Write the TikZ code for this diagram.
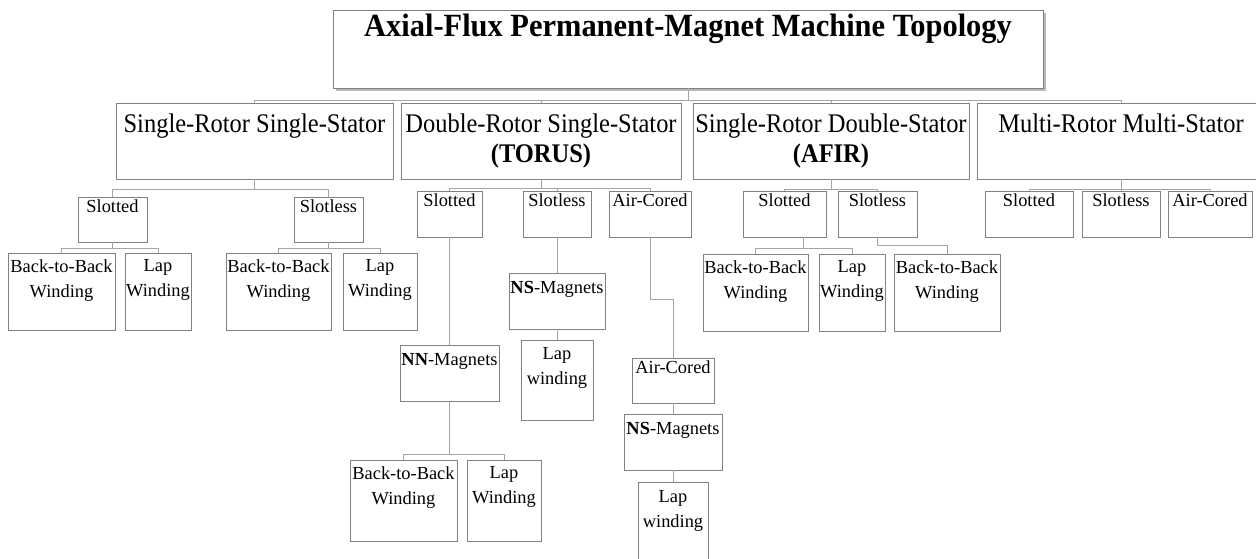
\documentclass[tikz,border=0pt]{standalone}
\usepackage{fontspec}
\setmainfont{Liberation Serif}
\newfontfamily\condserif{Liberation Serif}[FakeStretch=0.91]
\newfontfamily\titleserif{Liberation Serif}[FakeStretch=0.94]
\usetikzlibrary{calc,shadows}
\definecolor{boxgray}{RGB}{128,128,128}
\definecolor{conngray}{RGB}{165,165,165}
\tikzset{
  box/.style={draw=boxgray, line width=0.9pt, rectangle, inner sep=0pt, fill=white},
  titlebox/.style={box, drop shadow={fill=black!28, shadow xshift=3pt, shadow yshift=-3pt, opacity=1}},
  lbl/.style={anchor=north, inner sep=0pt, align=center, text=black},
  smallfont/.style={font=\fontsize{18.4}{25}\selectfont},
  bigfont/.style={font=\condserif\fontsize{26.9}{30}\selectfont},
  titlefont/.style={font=\titleserif\fontsize{32.4}{36}\selectfont\bfseries},
  conn/.style={draw=conngray, line width=0.9pt}
}
% name, font style, x1, y1, x2, y2, gap, text
\newcommand{\tnode}[8]{%
  \node[box, minimum width={#5-#3}, minimum height={#6-#4},
        label={[lbl,#2,yshift=-#7pt]north:{#8}}]
        (#1) at ({(#3+#5)/2},{(#4+#6)/2}) {};}
\begin{document}
\begin{tikzpicture}[x=1pt,y=-1pt]
\useasboundingbox (0,0) rectangle (1256,559);
\fill[white] (0,0) rectangle (1256,559);
\clip (0,0) rectangle (1256,559);

% title
\node[titlebox, minimum width=710, minimum height=78,
      label={[lbl,titlefont,yshift=-4pt]north:{Axial-Flux Permanent-Magnet Machine Topology}}]
      (title) at (688,49) {};

% level 1
\tnode{srss}{bigfont}{116}{103}{393}{179}{11}{Single-Rotor Single-Stator}
\tnode{drss}{bigfont}{401}{103}{681}{179}{11}{Double-Rotor Single-Stator\\\textbf{(TORUS)}}
\tnode{srds}{bigfont}{693}{103}{969}{179}{11}{Single-Rotor Double-Stator\\\textbf{(AFIR)}}
\tnode{mrms}{bigfont}{977}{103}{1265}{179}{11}{Multi-Rotor Multi-Stator}

% SRSS subtree
\tnode{s1slot}{smallfont}{78}{197}{147}{242}{3}{Slotted}
\tnode{s1sless}{smallfont}{294}{197}{363}{242}{3}{Slotless}
\tnode{s1b2b}{smallfont}{8}{253}{115}{330}{7}{Back-to-Back\\Winding}
\tnode{s1lap}{smallfont}{125}{253}{191}{330}{7}{Lap\\Winding}
\tnode{s2b2b}{smallfont}{226}{253}{331}{330}{7}{Back-to-Back\\Winding}
\tnode{s2lap}{smallfont}{343}{253}{417}{330}{7}{Lap\\Winding}

% TORUS subtree
\tnode{tslot}{smallfont}{417}{191}{482}{237}{3}{Slotted}
\tnode{tsless}{smallfont}{523}{191}{591}{237}{3}{Slotless}
\tnode{tair}{smallfont}{609}{191}{691}{237}{3}{Air-Cored}
\tnode{tnn}{smallfont}{400}{345}{499}{401}{9}{\textbf{NN}-Magnets}
\tnode{tnb2b}{smallfont}{350}{460}{457}{541}{7}{Back-to-Back\\Winding}
\tnode{tnlap}{smallfont}{467}{460}{541}{541}{7}{Lap\\Winding}
\tnode{tns}{smallfont}{509}{273}{605}{329}{9}{\textbf{NS}-Magnets}
\tnode{tlap}{smallfont}{521}{340}{593}{420}{8}{Lap\\winding}
\tnode{tair2}{smallfont}{632}{358}{714}{403}{3}{Air-Cored}
\tnode{tns2}{smallfont}{624}{414}{722}{470}{9}{\textbf{NS}-Magnets}
\tnode{tlap2}{smallfont}{638}{482}{708}{575}{9}{Lap\\winding}

% AFIR subtree
\tnode{aslot}{smallfont}{743}{191}{826}{237}{3}{Slotted}
\tnode{asless}{smallfont}{838}{191}{917}{237}{3}{Slotless}
\tnode{ab2b}{smallfont}{703}{254}{808}{331}{7}{Back-to-Back\\Winding}
\tnode{alap}{smallfont}{819}{254}{885}{331}{7}{Lap\\Winding}
\tnode{ab2b2}{smallfont}{894}{254}{1000}{331}{7}{Back-to-Back\\Winding}

% MRMS subtree
\tnode{mslot}{smallfont}{985}{191}{1073}{237}{3}{Slotted}
\tnode{msless}{smallfont}{1082}{191}{1160}{237}{3}{Slotless}
\tnode{mair}{smallfont}{1168}{191}{1252}{237}{3}{Air-Cored}

% connectors: title
\draw[conn] (title.south) -- ++(0,12) coordinate (jt);
\draw[conn] (srss.north) |- (jt) -| (mrms.north);
\draw[conn] (drss.north) -- (drss.north |- jt);
\draw[conn] (srds.north) -- (srds.north |- jt);

% SRSS
\draw[conn] (srss.south) -- ++(0,10) coordinate (ja);
\draw[conn] (s1slot.north) |- (ja) -| (s1sless.north);
\draw[conn] (s1slot.south) -- ++(0,6) coordinate (jb);
\draw[conn] (s1b2b.north) |- (jb) -| (s1lap.north);
\draw[conn] (s1sless.south) -- ++(0,6) coordinate (jc);
\draw[conn] (s2b2b.north) |- (jc) -| (s2lap.north);

% TORUS
\draw[conn] (drss.south) -- ++(0,9) coordinate (jd);
\draw[conn] (tslot.north) |- (jd) -| (tair.north);
\draw[conn] (tsless.north) -- (tsless.north |- jd);
\draw[conn] (tslot.south) -- (tnn.north);
\draw[conn] (tnn.south) -- ++(0,53) coordinate (je);
\draw[conn] (tnb2b.north) |- (je) -| (tnlap.north);
\draw[conn] (tsless.south) -- (tns.north);
\draw[conn] (tns.south) -- (tlap.north);
\draw[conn] (tair.south) -- ++(0,62) -| (tair2.north);
\draw[conn] (tair2.south) -- (tns2.north);
\draw[conn] (tns2.south) -- (tlap2.north);

% AFIR
\draw[conn] (srds.south) -- ++(0,10) coordinate (jf);
\draw[conn] (aslot.north) |- (jf) -| (asless.north);
\coordinate (am) at ($(ab2b.north)!.5!(alap.north)$);
\draw[conn] (aslot.south -| am) -- ++(0,11) coordinate (jg);
\draw[conn] (ab2b.north) |- (jg) -| (alap.north);
\draw[conn] (asless.south) -- ++(0,8) -| (ab2b2.north);

% MRMS
\draw[conn] (mrms.south) -- ++(0,10) coordinate (jh);
\draw[conn] (mslot.north) |- (jh) -| (mair.north);
\draw[conn] (msless.north) -- (jh);
\end{tikzpicture}
\end{document}
